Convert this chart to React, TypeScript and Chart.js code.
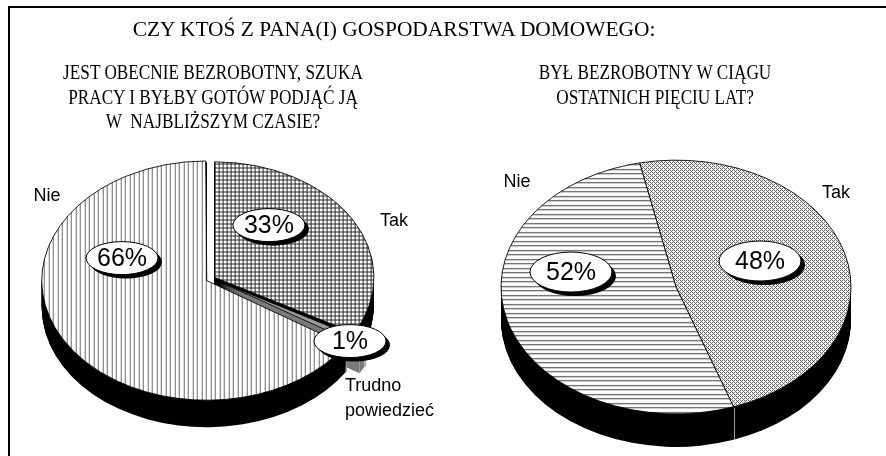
import React, { useEffect, useRef } from "react";
import { Chart, registerables } from "chart.js";

Chart.register(...registerables);

// ---------------- data ----------------
const mainTitle = "CZY KTOŚ Z PANA(I) GOSPODARSTWA DOMOWEGO:";
const leftQuestion = ["JEST OBECNIE BEZROBOTNY, SZUKA", "PRACY I BYŁBY GOTÓW PODJĄĆ JĄ", "W  NAJBLIŻSZYM CZASIE?"];
const rightQuestion = ["BYŁ BEZROBOTNY W CIĄGU", "OSTATNICH PIĘCIU LAT?"];
const leftLabels = ["Tak", "Trudno powiedzieć", "Nie"];
const leftValues = [33, 1, 66];
const rightLabels = ["Tak", "Nie"];
const rightValues = [48, 52];

// ---------------- styling ----------------
const SANS = '"Liberation Sans", Arial, Helvetica, sans-serif';
const SERIF = '"Liberation Serif", "Times New Roman", serif';
const TILT = 0.725;

type PieSpec = {
  labels: string[];
  values: number[];
  width: number;
  height: number;
  left: number;
  padding: { left: number; right: number; top: number; bottom: number };
  radius: number;
  rotation: number;
  depth: number;
  offsets: number[];
  patterns: string[];
  sideColors: string[];
  bubblePos: number[][];
  bubbleSize: number[];
  labelPos: number[][];
  labelAlign: string[];
};

function makePattern(kind: string): CanvasPattern | string {
  const tiles: Record<string, { w: number; h: number; f: (x: number, y: number) => string | null }> = {
    vlines: { w: 9, h: 1, f: (x) => (x === 0 || x === 4 ? "#6a6a6a" : null) },
    grid: { w: 4, h: 4, f: (x, y) => (x === 0 || y === 0 ? "#2a2a2a" : null) },
    hlines: { w: 1, h: 9, f: (_x, y) => (y === 0 || y === 4 ? "#707070" : y === 1 || y === 5 ? "#c8c8c8" : null) },
    diamond: {
      w: 4,
      h: 4,
      f: (x, y) => ((x + y) % 4 === 0 || (x - y + 4) % 4 === 0 ? "#606060" : null),
    },
  };
  const t = tiles[kind];
  if (!t) return kind;
  const c = document.createElement("canvas");
  c.width = t.w;
  c.height = t.h;
  const g = c.getContext("2d")!;
  g.fillStyle = "#fff";
  g.fillRect(0, 0, t.w, t.h);
  for (let y = 0; y < t.h; y++)
    for (let x = 0; x < t.w; x++) {
      const col = t.f(x, y);
      if (col) {
        g.fillStyle = col;
        g.fillRect(x, y, 1, 1);
      }
    }
  const p = g.createPattern(c, "repeat")!;
  try {
    p.setTransform(new DOMMatrix([1, 0, 0, 1 / TILT, 0, 0]));
  } catch (e) {}
  return p;
}

function arcGeom(arc: any) {
  const off = (arc.options.offset || 0) / 4;
  const mid = (arc.startAngle + arc.endAngle) / 2;
  const fix = 1 - Math.sin(Math.min(Math.PI, arc.circumference || 0));
  return {
    x: arc.x + Math.cos(mid) * off,
    y: arc.y + Math.sin(mid) * off,
    r: arc.outerRadius + off * fix,
    start: arc.startAngle,
    end: arc.endAngle,
  };
}

function makePie3d(spec: PieSpec) {
  return {
    id: "pie3d",
    beforeDatasetsDraw(chart: any) {
      const ctx: CanvasRenderingContext2D = chart.ctx;
      const arcs = chart.getDatasetMeta(0).data as any[];
      const cx = arcs[0].x;
      const cy = arcs[0].y;
      const geo = arcs.map(arcGeom);
      // side walls (extrusion)
      for (let t = spec.depth; t >= 1; t--) {
        geo.forEach((g, i) => {
          ctx.save();
          ctx.translate(cx, cy + t);
          ctx.scale(1, TILT);
          ctx.translate(-cx, -cy);
          ctx.beginPath();
          ctx.moveTo(g.x, g.y);
          ctx.arc(g.x, g.y, g.r, g.start, g.end);
          ctx.closePath();
          ctx.fillStyle = spec.sideColors[i];
          ctx.fill();
          ctx.restore();
        });
      }
      // wall separators
      ctx.save();
      ctx.strokeStyle = "#9a9a9a";
      ctx.lineWidth = 1;
      geo.forEach((g) => {
        [g.start, g.end].forEach((a) => {
          if (Math.sin(a) > 0.05 && g.r > 0) {
            const px = g.x + g.r * Math.cos(a);
            const py = cy + (g.y + g.r * Math.sin(a) - cy) * TILT;
            ctx.beginPath();
            ctx.moveTo(Math.round(px) + 0.5, py + 1);
            ctx.lineTo(Math.round(px) + 0.5, py + spec.depth);
            ctx.stroke();
          }
        });
      });
      ctx.restore();
      // top faces in tilted space
      ctx.save();
      ctx.translate(cx, cy);
      ctx.scale(1, TILT);
      ctx.translate(-cx, -cy);
    },
    afterDatasetsDraw(chart: any) {
      const ctx: CanvasRenderingContext2D = chart.ctx;
      ctx.restore();
      const arcs = chart.getDatasetMeta(0).data as any[];
      const cx = arcs[0].x;
      const cy = arcs[0].y;
      const R = arcs[0].outerRadius;
      const ds = chart.data.datasets[0];
      chart.data.labels.forEach((lab: string, i: number) => {
        // value bubble
        const bx = cx + spec.bubblePos[i][0] * R;
        const by = cy + spec.bubblePos[i][1] * R * TILT;
        const [rx, ry] = spec.bubbleSize;
        ctx.save();
        ctx.beginPath();
        ctx.ellipse(bx + 4, by + 4, rx, ry, 0, 0, Math.PI * 2);
        ctx.fillStyle = "#000";
        ctx.fill();
        ctx.beginPath();
        ctx.ellipse(bx, by, rx, ry, 0, 0, Math.PI * 2);
        ctx.fillStyle = "#fff";
        ctx.fill();
        ctx.lineWidth = 1;
        ctx.strokeStyle = "#000";
        ctx.stroke();
        ctx.fillStyle = "#000";
        ctx.font = `25px ${SANS}`;
        ctx.textAlign = "center";
        ctx.textBaseline = "middle";
        ctx.fillText(`${ds.data[i]}%`, bx, by + 1);
        // category label
        const lx = cx + spec.labelPos[i][0] * R;
        const ly = cy + spec.labelPos[i][1] * R * TILT;
        ctx.font = `18px ${SANS}`;
        ctx.textAlign = spec.labelAlign[i] as CanvasTextAlign;
        const lines = lab.split(" ");
        lines.forEach((ln, j) => ctx.fillText(ln, lx, ly + j * 25));
        ctx.restore();
      });
    },
  };
}

const leftSpec: PieSpec = {
  labels: leftLabels,
  values: leftValues,
  width: 443,
  height: 456,
  left: 0,
  padding: { left: 0, right: 19, top: 101, bottom: 0 },
  radius: 159,
  rotation: 0,
  depth: 27,
  offsets: [12, 32, 24],
  patterns: ["grid", "#9a9a9a", "vlines"],
  sideColors: ["#000", "#7a7a7a", "#000"],
  bubblePos: [
    [0.358, -0.463],
    [0.868, 0.543],
    [-0.566, -0.177],
  ],
  bubbleSize: [36, 16.5],
  labelPos: [
    [1.145, -0.498],
    [0.836, 0.933],
    [-1.038, -0.715],
  ],
  labelAlign: ["center", "left", "center"],
};

const rightSpec: PieSpec = {
  labels: rightLabels,
  values: rightValues,
  width: 443,
  height: 456,
  left: 443,
  padding: { left: 23, right: 0, top: 118, bottom: 0 },
  radius: 175,
  rotation: -12,
  depth: 33,
  offsets: [0, 0],
  patterns: ["diamond", "hlines"],
  sideColors: ["#000", "#000"],
  bubblePos: [
    [0.48, -0.205],
    [-0.6, -0.118],
  ],
  bubbleSize: [41, 20],
  labelPos: [
    [0.914, -0.74],
    [-0.909, -0.827],
  ],
  labelAlign: ["center", "center"],
};

function Pie3D({ spec }: { spec: PieSpec }) {
  const ref = useRef<HTMLCanvasElement | null>(null);
  useEffect(() => {
    if (!ref.current) return;
    const chart = new Chart(ref.current, {
      type: "pie",
      data: {
        labels: spec.labels,
        datasets: [
          {
            data: spec.values,
            backgroundColor: spec.patterns.map(makePattern) as any,
            borderColor: "#000",
            borderWidth: 1,
            offset: spec.offsets,
            radius: spec.radius,
            clip: false,
          } as any,
        ],
      },
      options: {
        responsive: false,
        animation: false,
        events: [],
        rotation: spec.rotation,
        layout: { padding: spec.padding },
        plugins: {
          legend: { display: false },
          tooltip: { enabled: false },
          title: { display: false },
        },
      } as any,
      plugins: [makePie3d(spec) as any],
    });
    return () => chart.destroy();
  }, [spec]);
  return (
    <canvas
      ref={ref}
      width={spec.width}
      height={spec.height}
      style={{ position: "absolute", left: spec.left, top: 0, width: spec.width, height: spec.height }}
    />
  );
}

function TextBlock({
  lines,
  cx,
  top,
  size,
  lh,
  sx,
}: {
  lines: string[];
  cx: number;
  top: number;
  size: number;
  lh: number;
  sx: number;
}) {
  return (
    <div
      style={{
        position: "absolute",
        left: cx - 300,
        width: 600,
        top,
        textAlign: "center",
        fontFamily: SERIF,
        fontSize: size,
        lineHeight: `${lh}px`,
        whiteSpace: "pre",
        color: "#000",
        transform: `scaleX(${sx})`,
        transformOrigin: "50% 0",
      }}
    >
      {lines.map((l, i) => (
        <div key={i}>{l}</div>
      ))}
    </div>
  );
}

export default function App() {
  return (
    <div
      style={{
        position: "fixed",
        left: 0,
        top: 0,
        width: 886,
        height: 456,
        overflow: "hidden",
        background: "#fff",
      }}
    >
      <div
        style={{
          position: "absolute",
          left: 8,
          top: 6,
          width: 2000,
          height: 2000,
          borderLeft: "2px solid #000",
          borderTop: "2px solid #000",
        }}
      />
      <Pie3D spec={leftSpec} />
      <Pie3D spec={rightSpec} />
      <TextBlock lines={[mainTitle]} cx={394} top={17} size={21.4} lh={24} sx={1} />
      <TextBlock lines={leftQuestion} cx={213} top={60} size={21} lh={24.5} sx={0.82} />
      <TextBlock lines={rightQuestion} cx={655} top={60} size={21} lh={24.5} sx={0.82} />
    </div>
  );
}
